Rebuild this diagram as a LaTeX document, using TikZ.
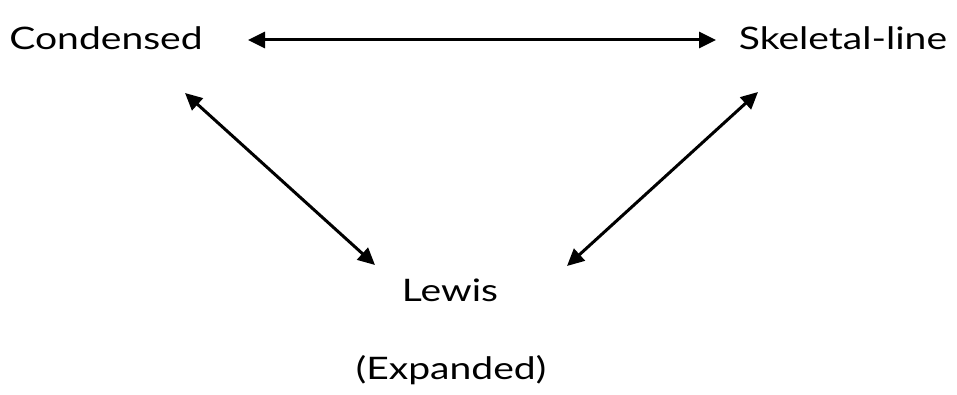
\documentclass[tikz,border=0pt]{standalone}
\usepackage{fontspec}
\setmainfont{Lato}
\usetikzlibrary{arrows.meta}
\newcommand{\wide}[1]{\scalebox{1.26}[1]{#1}}
\tikzset{
  lbl/.style={inner sep=0pt, font=\fontsize{31}{36}\selectfont},
  biarrow/.style={line width=3pt, {Triangle[length=17pt,width=16pt]}-{Triangle[length=17pt,width=16pt]}}
}
\begin{document}
\begin{tikzpicture}[x=1pt,y=-1pt]
\useasboundingbox (0,0) rectangle (957,395);
\node[lbl] (c) at (106,38) {\wide{Condensed}};
\node[lbl] (s) at (843,38) {\wide{Skeletal-line}};
\node[lbl] (l) at (450,290) {\wide{Lewis}};
\node[lbl] (e) at (451,370) {\wide{(Expanded)}};
\draw[biarrow] ([shift={(142,2)}]c.center) -- ([shift={(-127,2)}]s.center);
\draw[biarrow] ([shift={(79,55)}]c.center) -- ([shift={(-75,-25)}]l.center);
\draw[biarrow] ([shift={(-85,54)}]s.center) -- ([shift={(117,-24)}]l.center);
\end{tikzpicture}
\end{document}
